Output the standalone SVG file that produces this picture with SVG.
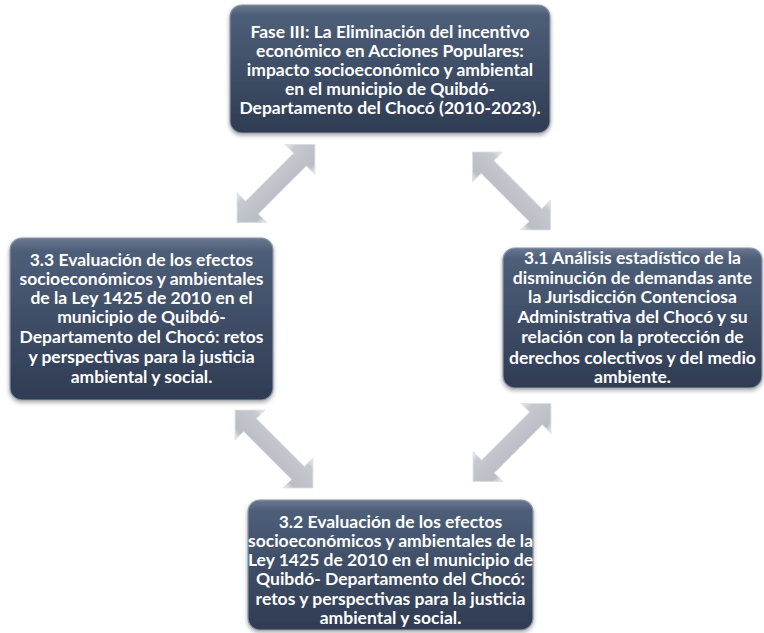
<svg xmlns="http://www.w3.org/2000/svg" width="764" height="633" viewBox="0 0 764 633">
<defs>
<linearGradient id="boxg" x1="0" y1="0" x2="0" y2="1">
<stop offset="0" stop-color="#6a7890"/>
<stop offset="0.08" stop-color="#4e5e78"/>
<stop offset="0.5" stop-color="#3f4e67"/>
<stop offset="1" stop-color="#2f3c53"/>
</linearGradient>
<linearGradient id="arrg" x1="0" y1="0" x2="0" y2="1">
<stop offset="0" stop-color="#eef0f3"/>
<stop offset="0.2" stop-color="#c6c9cf"/>
<stop offset="0.8" stop-color="#b9bdc4"/>
<stop offset="1" stop-color="#f2f3f5"/>
</linearGradient>
<filter id="sh" x="-10%" y="-10%" width="120%" height="130%">
<feGaussianBlur in="SourceAlpha" stdDeviation="2"/>
<feOffset dx="0" dy="2" result="b"/>
<feComponentTransfer><feFuncA type="linear" slope="0.35"/></feComponentTransfer>
<feMerge><feMergeNode/><feMergeNode in="SourceGraphic"/></feMerge>
</filter>
<polygon id="dbl" points="-55,0 -34,-21 -34,-9 34,-9 34,-21 55,0 34,21 34,9 -34,9 -34,21"/>
</defs>
<style>
.box{fill:url(#boxg);stroke:#8a96a8;stroke-width:1.2;filter:url(#sh)}
.t{font-family:Lato,"Open Sans","Liberation Sans",sans-serif;font-weight:bold;font-size:17.5px;fill:#ffffff;text-anchor:middle}
.arr{fill:url(#arrg);stroke:#d8dbe0;stroke-width:0.8}
</style>
<g id="connectors">
<use href="#dbl" class="arr" transform="translate(276,183.5) rotate(-45)"/>
<use href="#dbl" class="arr" transform="translate(511.5,191) rotate(45)"/>
<use href="#dbl" class="arr" transform="translate(274,449) rotate(45)"/>
<use href="#dbl" class="arr" transform="translate(512,442.5) rotate(-45)"/>
</g>
<g id="node-fase3">
<rect class="box" x="230" y="5" width="320" height="128" rx="12"/>
<text class="t"><tspan x="390" y="38">Fase III: La Eliminación del incentivo</tspan><tspan x="390" y="57">económico en Acciones Populares:</tspan><tspan x="390" y="76">impacto socioeconómico y ambiental</tspan><tspan x="390" y="95">en el municipio de Quibdó-</tspan><tspan x="390" y="114">Departamento del Chocó (2010-2023).</tspan></text>
</g>
<g id="node-33">
<rect class="box" x="10" y="238" width="263" height="162" rx="12"/>
<text class="t"><tspan x="141.5" y="266">3.3 Evaluación de los efectos</tspan><tspan x="141.5" y="285">socioeconómicos y ambientales</tspan><tspan x="141.5" y="304">de la Ley 1425 de 2010 en el</tspan><tspan x="141.5" y="323">municipio de Quibdó-</tspan><tspan x="141.5" y="343">Departamento del Chocó: retos</tspan><tspan x="141.5" y="363">y perspectivas para la justicia</tspan><tspan x="141.5" y="383">ambiental y social.</tspan></text>
</g>
<g id="node-31">
<rect class="box" x="503" y="248" width="259" height="140" rx="12"/>
<text class="t"><tspan x="632.5" y="264">3.1 Análisis estadístico de la</tspan><tspan x="632.5" y="284">disminución de demandas ante</tspan><tspan x="632.5" y="303">la Jurisdicción Contenciosa</tspan><tspan x="632.5" y="323">Administrativa del Chocó y su</tspan><tspan x="632.5" y="343">relación con la protección de</tspan><tspan x="632.5" y="364">derechos colectivos y del medio</tspan><tspan x="632.5" y="383">ambiente.</tspan></text>
</g>
<g id="node-32">
<rect class="box" x="248" y="500" width="285" height="130" rx="12"/>
<text class="t"><tspan x="390.5" y="528">3.2 Evaluación de los efectos</tspan><tspan x="390.5" y="547">socioeconómicos y ambientales de la</tspan><tspan x="390.5" y="566">Ley 1425 de 2010 en el municipio de</tspan><tspan x="390.5" y="585">Quibdó- Departamento del Chocó:</tspan><tspan x="390.5" y="605">retos y perspectivas para la justicia</tspan><tspan x="390.5" y="624">ambiental y social.</tspan></text>
</g>
</svg>
